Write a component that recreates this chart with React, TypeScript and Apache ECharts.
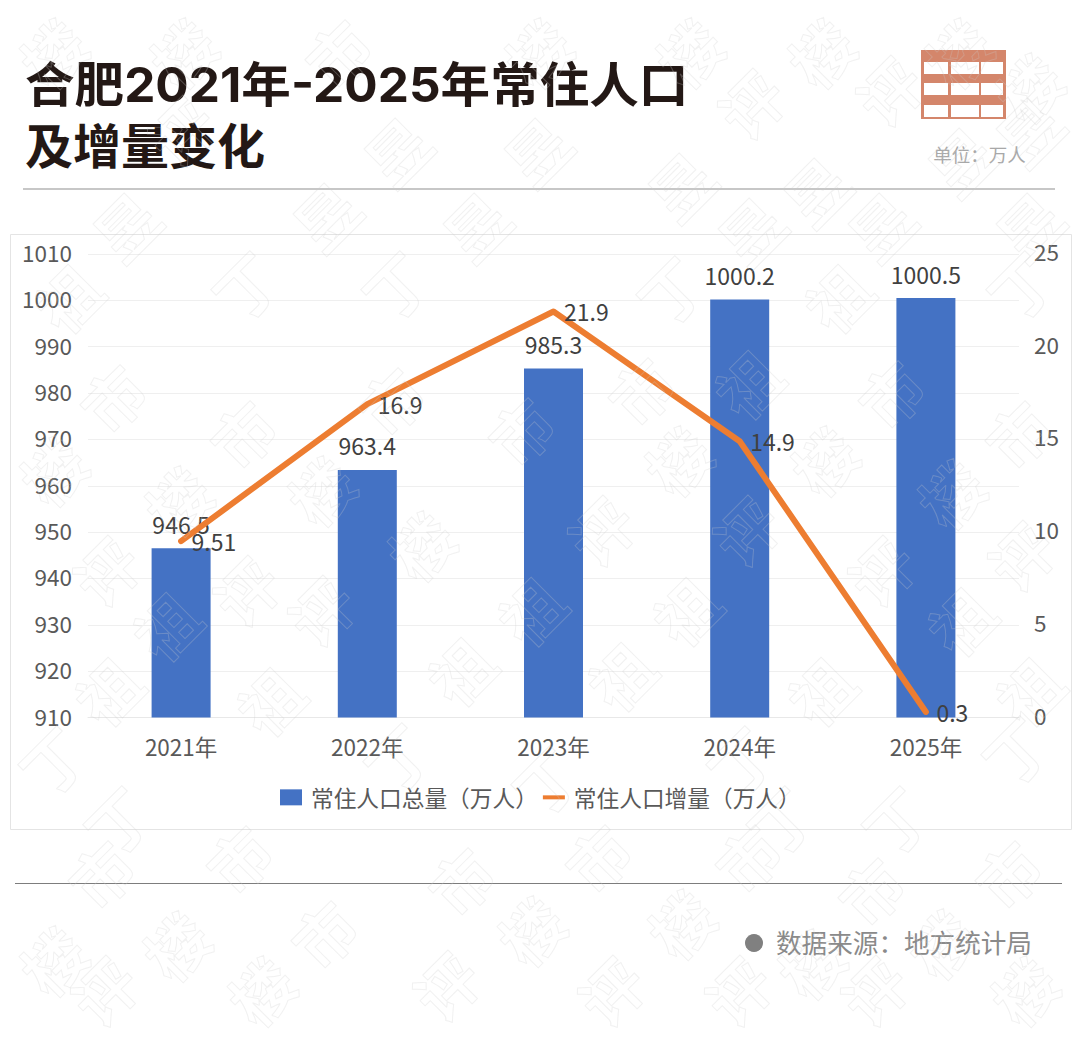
import React, { useEffect, useRef } from "react";
import * as echarts from "echarts";

const categories = ["2021年", "2022年", "2023年", "2024年", "2025年"];
const totalName = "常住人口总量（万人）";
const changeName = "常住人口增量（万人）";
const totalValues = [946.5, 963.4, 985.3, 1000.2, 1000.5];
const changeValues = [9.51, 16.9, 21.9, 14.9, 0.3];

const FONT = '"Noto Sans CJK SC", "Noto Sans", sans-serif';
const TITLE_FONT = 'Inter, "Noto Sans CJK SC", sans-serif';

// page watermark: [character, centre x, centre y]
const watermarkCells: [string, number, number][] = [
  ["楼", 34, 37], ["楼", 182, 27], ["市", 337, 23], ["楼", 537, 20], ["楼", 688, 20], ["楼", 820, 40], ["楼", 957, 30], ["楼", 1047, 87],
  ["评", 750, 103], ["评", 888, 90], ["评", 180, 130],
  ["昱", 396, 150], ["昱", 536, 150], ["昱", 680, 185], ["昱", 815, 190], ["昱", 960, 160], ["昱", 1040, 130],
  ["昱", 125, 225], ["昱", 325, 215], ["昱", 475, 225], ["昱", 750, 230], ["昱", 880, 225], ["昱", 1045, 225],
  ["丁", 245, 285], ["丁", 395, 285], ["丁", 670, 290], ["丁", 1020, 285], ["祖", 67, 297], ["祖", 837, 297],
  ["祖", 747, 383], ["市", 112, 397], ["市", 242, 433], ["市", 890, 393], ["市", 1017, 433], ["市", 390, 400], ["市", 520, 430], ["市", 640, 390],
  ["楼", 45, 470], ["楼", 177, 500], ["楼", 677, 460], ["楼", 823, 460], ["楼", 950, 493], ["楼", 320, 490], ["楼", 420, 545],
  ["评", 105, 570], ["评", 245, 590], ["评", 600, 530], ["评", 880, 570], ["评", 1020, 555], ["评", 320, 610], ["评", 745, 530],
  ["祖", 107, 690], ["祖", 269, 700], ["祖", 165, 625], ["祖", 460, 670], ["祖", 530, 610], ["祖", 685, 610], ["祖", 820, 690], ["祖", 960, 620], ["祖", 1040, 690], ["祖", 620, 675],
  ["丁", 17, 760], ["丁", 117, 820], ["丁", 397, 757], ["丁", 545, 780], ["丁", 740, 760], ["丁", 895, 820], ["丁", 1015, 750], ["丁", 780, 820],
  ["市", 100, 873], ["市", 238, 858], ["市", 323, 933], ["市", 597, 857], ["市", 747, 857], ["市", 870, 890], ["市", 1007, 873], ["市", 460, 880],
  ["楼", 38, 960], ["楼", 175, 945], ["楼", 260, 1007], ["楼", 530, 930], ["楼", 680, 923], ["楼", 810, 963], ["楼", 940, 943], ["楼", 1023, 1000],
  ["评", 103, 1007], ["评", 445, 985], ["评", 610, 990], ["评", 737, 1005], ["评", 873, 1005],
];

const iconCols: [number, number][] = [[924, 24], [951, 28], [981, 22]];
const iconRows: [number, number][] = [[62, 12], [83, 12], [105, 12]];

const clamp = (v: number, lo: number, hi: number) => Math.min(hi, Math.max(lo, v));

export default function App() {
  const ref = useRef<HTMLDivElement>(null);
  useEffect(() => {
    document.body.style.margin = "0";
    const chart = echarts.init(ref.current!, undefined, { renderer: "svg" });

    const iconCells = iconRows.flatMap(([y, h]) =>
      iconCols.map(([x, w]) => ({
        type: "rect",
        shape: { x, y, width: w, height: h },
        style: { fill: "#ffffff" },
        z: 11,
      }))
    );

    chart.setOption({
      animation: false,
      backgroundColor: "#ffffff",
      textStyle: { fontFamily: FONT },
      grid: { left: 88, right: 61, top: 254, bottom: 324.5, containLabel: false },
      legend: {
        left: 275,
        top: 781,
        itemWidth: 22,
        itemHeight: 16,
        itemGap: 5,
        textStyle: { fontSize: 22.7, color: "#595959", fontFamily: FONT, padding: [0, 0, 0, 4] },
        data: [
          { name: totalName, icon: "rect" },
          { name: changeName, icon: "path://M0 0H22V4H0Z" },
        ],
      },
      xAxis: {
        type: "category",
        data: categories,
        axisTick: { show: false },
        axisLine: { lineStyle: { color: "#e8e8e8", width: 1 } },
        axisLabel: { fontSize: 22.5, color: "#595959", margin: 17, fontFamily: FONT },
      },
      yAxis: [
        {
          type: "value",
          min: 910,
          max: 1010,
          interval: 10,
          axisLine: { show: false },
          axisTick: { show: false },
          axisLabel: {
            fontSize: 22.5,
            color: "#595959",
            margin: 16,
            fontFamily: FONT,
            verticalAlign: "bottom",
            lineHeight: 4,
            formatter: (v: number) => String(v),
          },
          splitLine: { lineStyle: { color: "#efefef", width: 1 } },
        },
        {
          type: "value",
          min: 0,
          max: 25,
          interval: 5,
          axisLine: { show: false },
          axisTick: { show: false },
          axisLabel: {
            fontSize: 22.5,
            color: "#595959",
            margin: 15,
            fontFamily: FONT,
            verticalAlign: "bottom",
            lineHeight: 6,
            formatter: (v: number) => String(v),
          },
          splitLine: { show: false },
        },
      ],
      series: [
        {
          name: totalName,
          type: "bar",
          data: totalValues,
          barWidth: 59,
          itemStyle: { color: "#4472C4" },
          label: {
            show: true,
            position: "top",
            distance: 13,
            fontSize: 23,
            color: "#404040",
            fontFamily: FONT,
            formatter: (p: any) => String(p.value),
          },
        },
        {
          name: changeName,
          type: "line",
          yAxisIndex: 1,
          data: changeValues,
          symbol: "circle",
          symbolSize: 1,
          showSymbol: true,
          lineStyle: { color: "#ED7D31", width: 6, cap: "round", join: "round" },
          itemStyle: { color: "#ED7D31" },
          label: {
            show: true,
            position: "right",
            distance: 10,
            offset: [0, -2],
            fontSize: 23,
            color: "#404040",
            fontFamily: FONT,
            formatter: (p: any) => String(p.value),
          },
          labelLayout: { hideOverlap: false },
          z: 3,
        },
      ],
      graphic: [
        { type: "rect", shape: { x: 10.5, y: 234.5, width: 1061, height: 595 }, style: { fill: "transparent", stroke: "#e4e4e4", lineWidth: 1 }, z: 0, silent: true },
        { type: "text", x: 25, y: 61, scaleX: 1.033, style: { text: "合肥2021年-2025年常住人口", font: `bold 48px ${TITLE_FONT}`, fill: "#231815" }, z: 10 },
        { type: "text", x: 25, y: 122, style: { text: "及增量变化", font: `bold 48px ${TITLE_FONT}`, fill: "#231815" }, z: 10 },
        { type: "rect", shape: { x: 921, y: 50, width: 85, height: 69 }, style: { fill: "#D4866B" }, z: 10 },
        ...iconCells,
        { type: "text", x: 979.5, y: 154, style: { text: "单位：万人", font: `18.5px ${FONT}`, fill: "#a8a8a8", align: "center", verticalAlign: "middle" }, z: 10 },
        { type: "line", shape: { x1: 23, y1: 189, x2: 1055, y2: 189 }, style: { stroke: "#8f8f8f", lineWidth: 1 }, z: 10 },
        { type: "line", shape: { x1: 15, y1: 883.5, x2: 1062, y2: 883.5 }, style: { stroke: "#7d7d7d", lineWidth: 1 }, z: 10 },
        { type: "circle", shape: { cx: 754, cy: 943, r: 9 }, style: { fill: "#808080" }, z: 10 },
        { type: "text", x: 776, y: 941, style: { text: "数据来源：地方统计局", font: `25.6px ${FONT}`, fill: "#8a8a8a", verticalAlign: "middle" }, z: 10 },
        ...watermarkCells.map(([ch, x, y]) => ({
          type: "text",
          x: clamp(x, 52, 1028),
          y: clamp(y, 52, 990),
          rotation: Math.PI / 4,
          silent: true,
          z: 20,
          style: {
            text: ch,
            font: `bold 62px ${FONT}`,
            fill: "transparent",
            stroke: "rgba(205,205,205,0.28)",
            lineWidth: 1,
            align: "center",
            verticalAlign: "middle",
          },
        })),
      ],
    });
    return () => chart.dispose();
  }, []);
  return (
    <div
      ref={ref}
      style={{ position: "absolute", left: 0, top: 0, width: 1080, height: 1042 }}
    />
  );
}
